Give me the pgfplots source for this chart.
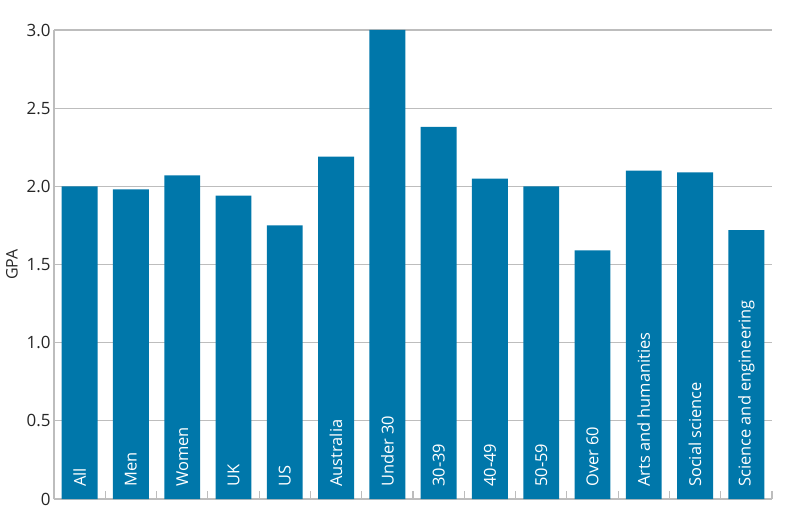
\documentclass[border=0pt]{standalone}
\usepackage{fontspec}
\setmainfont{Open Sans}
\usepackage{pgfplots}
\pgfplotsset{compat=1.18}
\definecolor{barblue}{HTML}{0077AA}
\definecolor{gridgray}{HTML}{BDBDBD}
\begin{document}
\begin{tikzpicture}
\begin{axis}[
  scale only axis,
  width=718bp, height=469bp,
  xmin=-0.5, xmax=13.5,
  ymin=0, ymax=3,
  enlargelimits=false,
  axis x line*=bottom,
  axis y line*=left,
  axis line style={gridgray, line width=1.2bp, -},
  ytick={0,0.5,1,1.5,2,2.5,3},
  yticklabels={0,0.5,1.0,1.5,2.0,2.5,3.0},
  ymajorgrids,
  grid style={gridgray, line width=1.2bp},
  major y tick style={draw=none},
  xtick={0,...,13},
  xticklabels={},
  major x tick style={draw=none},
  minor xtick={-0.5,0.5,...,13.5},
  minor x tick style={gridgray, line width=1.2bp},
  minor tick length=8bp,
  xtick align=inside,
  yticklabel style={font=\fontsize{17}{20}\selectfont, text=black!85},
  /pgf/number format/assume math mode=true,
  ylabel={GPA},
  ylabel style={font=\fontsize{16}{18}\selectfont, text=black!85},
  ylabel shift=2bp,
  clip=false,
]
\addplot[ybar, bar width=0.7, fill=barblue, draw=none] coordinates {
(0,2.00) (1,1.98) (2,2.07) (3,1.94) (4,1.75) (5,2.19) (6,3.00)
(7,2.38) (8,2.05) (9,2.00) (10,1.59) (11,2.10) (12,2.09) (13,1.72)};
\addplot[only marks, mark=none, point meta=explicit symbolic, nodes near coords,
  nodes near coords style={rotate=90, anchor=west, text=white, inner sep=0pt,
  font=\fontsize{16.5}{18}\selectfont, xshift=12bp}]
coordinates {
(0,0) [All] (1,0) [Men] (2,0) [Women] (3,0) [UK] (4,0) [US] (5,0) [Australia]
(6,0) [Under 30] (7,0) [30-39] (8,0) [40-49] (9,0) [50-59] (10,0) [Over 60]
(11,0) [Arts and humanities] (12,0) [Social science] (13,0) [Science and engineering]};
\end{axis}
\path ([xshift=-54bp,yshift=-24bp]current axis.south west) rectangle ([xshift=13bp,yshift=30bp]current axis.north east);
\end{tikzpicture}
\end{document}
